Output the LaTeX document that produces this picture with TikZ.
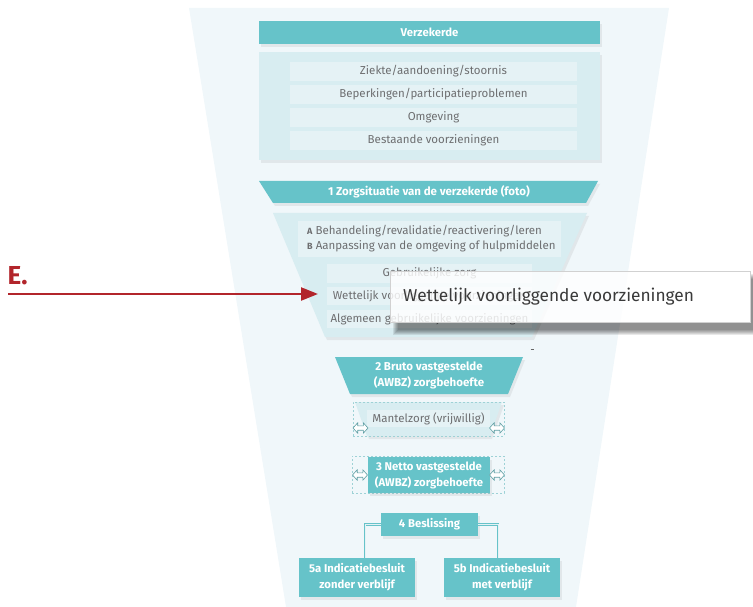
\documentclass[tikz,border=0pt]{standalone}
\usepackage{fontspec}
\setmainfont{Fira Sans}
\usetikzlibrary{arrows.meta,shadows}
\definecolor{tealc}{HTML}{66C3C9}
\definecolor{boxbg}{HTML}{D8EDF1}
\definecolor{rowbg}{HTML}{E5F2F5}
\definecolor{funnelc}{HTML}{F0F7FA}
\definecolor{txtgray}{HTML}{6D6E70}
\definecolor{ered}{HTML}{B2252B}
\definecolor{dashc}{HTML}{9ED2D6}
\definecolor{arrc}{HTML}{5E9EA3}
\definecolor{calltxt}{HTML}{3A3A3A}
\begin{document}
\begin{tikzpicture}[x=1pt,y=-1pt,
  sh/.style={drop shadow={opacity=0.13, shadow xshift=2pt, shadow yshift=-3pt}},
  tealbox/.style={fill=tealc, sh, inner sep=0pt, outer sep=0pt, text=white, font=\fontsize{11.3}{16}\selectfont\bfseries, align=center},
  hdrtext/.style={inner sep=0pt, text=white, font=\fontsize{11.5}{16}\selectfont\bfseries, align=center},
  bigbox/.style={fill=boxbg, sh, inner sep=0pt, outer sep=0pt},
  rowbox/.style={fill=rowbg, inner sep=0pt, outer sep=0pt, text=txtgray, font=\fontsize{11.5}{14}\selectfont, minimum height=19pt},
  dashbox/.style={draw=dashc, dashed, dash pattern=on 2pt off 2pt, line width=0.5pt, inner sep=0pt, outer sep=0pt},
  conn/.style={draw=tealc, line width=0.7pt, double=rowbg, double distance=0.8pt},
  dblarr/.pic={\draw[arrc, fill=white, line width=0.6pt, line join=miter]
     (-7.5,0) -- (-2.8,-5.2) -- (-2.8,-2.2) -- (2.8,-2.2) -- (2.8,-5.2) -- (7.5,0) -- (2.8,5.2) -- (2.8,2.2) -- (-2.8,2.2) -- (-2.8,5.2) -- cycle;}
]
\useasboundingbox (0,0) rectangle (753,607);
% funnel background
\fill[funnelc] (189,8) -- (669,8) -- (576,607) -- (286,607) -- cycle;

% Verzekerde
\node[tealbox, minimum width=341pt, minimum height=23pt] (verz) at (429.5,32.5) {Verzekerde};
\node[bigbox, minimum width=341pt, minimum height=108pt] (eig) at (429.5,106) {};
\node[rowbox, minimum width=287pt] (r1) at (433.5,71.5) {Ziekte/aandoening/stoornis};
\node[rowbox, minimum width=287pt] (r2) at (433.5,94.5) {Beperkingen/participatieproblemen};
\node[rowbox, minimum width=287pt] (r3) at (433.5,117.5) {Omgeving};
\node[rowbox, minimum width=287pt] (r4) at (433.5,140.5) {Bestaande voorzieningen};

% 1 Zorgsituatie
\fill[tealc, sh] (259,181) -- (598,181) -- (586,203) -- (273,203) -- cycle;
\node[hdrtext] (h1) at (429,192) {1 Zorgsituatie van de verzekerde (foto)};
\fill[boxbg, sh] (273,213) -- (587,213) -- (532,337) -- (325,337) -- cycle;
\node[rowbox, minimum width=263pt, minimum height=36pt] (ab) at (429.5,239) {};
\node[anchor=west, inner sep=0pt, align=left, text=txtgray, font=\fontsize{11.5}{15}\selectfont] (abtext) at (307,238.5)
  {{\fontsize{9}{10}\selectfont\bfseries A} Behandeling/revalidatie/reactivering/leren\\
   {\fontsize{9}{10}\selectfont\bfseries B} Aanpassing van de omgeving of hulpmiddelen};
\node[rowbox, minimum width=205pt] (geb) at (429.5,273.5) {Gebruikelijke zorg};
\node[rowbox, minimum width=205pt, minimum height=18pt] (wet) at (429.5,296) {Wettelijk voorliggende voorzieningen};
\node[rowbox, minimum width=205pt, minimum height=18pt] (alg) at (429.5,319) {Algemeen gebruikelijke voorzieningen};

% callout shadow (outside the callout only)
\begin{scope}
  \clip (0,0) -- (753,0) -- (753,607) -- (0,607) -- cycle
        (390,271) -- (390,322) -- (750,322) -- (750,271) -- cycle;
  \foreach \i in {0,...,5}
    \fill[black, opacity=0.09] (398-\i,279-\i) rectangle (758+\i,330+\i);
\end{scope}
\node[draw=black!18, line width=0.5pt, fill=white, fill opacity=0.82, minimum width=360pt, minimum height=51pt, inner sep=0pt] (call) at (570,296.5) {};
\node[anchor=west, inner sep=0pt, text=calltxt, font=\fontsize{17.3}{20}\selectfont] (calltext) at (403,297) {Wettelijk voorliggende voorzieningen};
\draw[black!60, line width=0.7pt] (530.5,349.5) -- (533.5,349.5);

% E. label and arrow
\node[anchor=west, inner sep=0pt, text=ered, font=\fontsize{26}{26}\selectfont\bfseries] (elab) at (7.5,276) {E.};
\coordinate (astart) at (8,294);
\draw[ered, line width=2.4pt, -{Triangle[length=17pt,width=13pt]}, shorten >=9pt] (astart) -- (astart -| wet.west);

% 2 Bruto
\fill[tealc, sh] (335,357) -- (523,357) -- (508,394) -- (350,394) -- cycle;
\node[hdrtext] (b2) at (429,375.5) {2 Bruto vastgestelde\\(AWBZ) zorgbehoefte};

% Mantelzorg
\fill[boxbg, sh] (355,402) -- (502,402) -- (490,436) -- (367,436) -- cycle;
\node[dashbox, minimum width=151pt, minimum height=34pt] (mz) at (428.5,419) {};
\node[rowbox, minimum width=123pt, minimum height=17pt] (mzl) at (428.5,418.5) {Mantelzorg (vrijwillig)};
\pic at (360.5,428) {dblarr};
\pic at (497,428) {dblarr};

% 3 Netto
\node[dashbox, minimum width=152pt, minimum height=37pt] (nz) at (428,474.5) {};
\node[tealbox, minimum width=122pt, minimum height=36pt] (b3) at (429,475) {3 Netto vastgestelde\\(AWBZ) zorgbehoefte};
\pic at (360,475) {dblarr};
\pic at (497,475) {dblarr};

% 4 Beslissing and 5a/5b
\coordinate (j5a) at (365,558);
\coordinate (j5b) at (498,558);
\node[tealbox, minimum width=97pt, minimum height=23pt] (b4) at (429.5,524.5) {4 Beslissing};
\draw[conn] (b4.west) -| (j5a);
\draw[conn] (b4.east) -| (j5b);
\node[tealbox, minimum width=116pt, minimum height=39pt] (b5a) at (357,577.5) {5a Indicatiebesluit\\zonder verblijf};
\node[tealbox, minimum width=116pt, minimum height=39pt] (b5b) at (502,577.5) {5b Indicatiebesluit\\met verblijf};
\end{tikzpicture}
\end{document}
